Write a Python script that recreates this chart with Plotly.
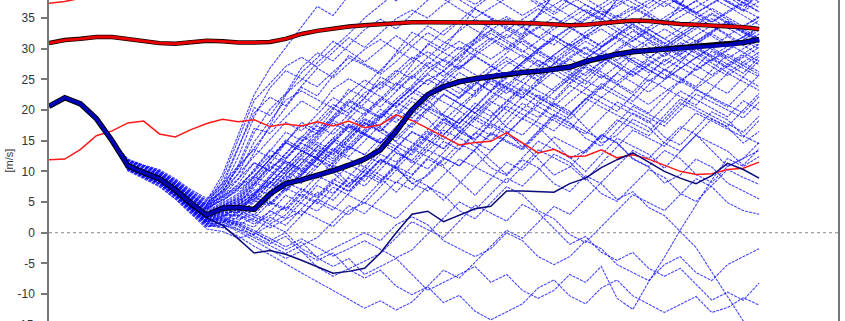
import sys
import plotly.graph_objects as go

# ---------------- data ----------------
steps = list(range(46))

start_common = [20.6, 22.0, 21.0, 18.6, 15.0]

mean_line = [20.6, 22.0, 21.0, 18.6, 15.0, 10.9, 9.8, 8.8, 7.0, 4.8,
             2.9, 4.0, 4.1, 3.8, 6.3, 8.0, 8.6, 9.3, 10.1, 11.0,
             12.0, 13.5, 16.5, 20.0, 22.5, 23.8, 24.6, 25.1, 25.5, 25.9,
             26.1, 26.3, 26.6, 27.0, 27.9, 28.6, 29.1, 29.5, 29.7, 29.9,
             30.0, 30.2, 30.4, 30.6, 31.0, 31.5]

control_line = [20.6, 21.9, 20.8, 18.3, 14.6, 10.6, 9.6, 8.5, 6.5, 4.2,
                2.4, 1.2, -1.0, -3.3, -2.9, -3.5, -4.5, -5.6, -6.6, -6.3,
                -5.8, -3.3, 0.0, 3.0, 3.5, 1.8, 2.9, 3.9, 4.3, 6.8,
                6.8, 6.7, 6.6, 8.0, 8.9, 10.6, 11.9, 13.0, 11.5, 10.0,
                8.9, 8.0, 9.3, 11.3, 10.3, 8.9]

red_thick = [30.9, 31.4, 31.6, 31.9, 31.9, 31.6, 31.2, 30.9, 30.8, 31.1,
             31.3, 31.2, 31.0, 31.0, 31.1, 31.6, 32.4, 32.9, 33.3, 33.6,
             33.8, 34.0, 34.2, 34.3, 34.3, 34.3, 34.3, 34.3, 34.3, 34.3,
             34.2, 34.1, 33.9, 33.8, 33.9, 34.1, 34.3, 34.6, 34.5, 34.2,
             34.0, 33.9, 33.8, 33.6, 33.5, 33.2]

red_low = [11.9, 12.0, 13.6, 15.8, 16.6, 17.9, 18.2, 16.1, 15.6, 16.8,
           17.8, 18.5, 18.1, 18.4, 17.3, 17.7, 17.4, 18.1, 17.4, 18.2,
           17.1, 17.6, 19.2, 18.3, 17.0, 15.7, 14.3, 14.7, 14.9, 16.3,
           14.6, 13.0, 13.6, 12.4, 12.5, 13.5, 12.2, 12.7, 12.0, 11.0,
           10.0, 9.5, 9.6, 10.3, 10.5, 11.5]

red_high = [37.4, 37.7, 38.2, 38.9, 39.5, 40.1, 40.4, 40.0, 40.3, 40.9,
            41.2, 41.0, 41.5, 41.9, 42.2, 42.0, 42.6, 43.0, 43.2, 43.5,
            43.1, 43.6, 44.0, 44.2, 44.5, 44.3, 44.8, 45.0, 45.2, 45.0,
            45.4, 45.6, 45.3, 45.7, 45.9, 46.0, 45.8, 46.2, 46.0, 46.3,
            46.1, 46.4, 46.2, 46.5, 46.3, 46.6]

members_early = [
    [11.4,10.4,9.6,8.0,6.1,4.6,8.9,15.2, 21.6,24.3,27.1,28.6,27.0,29.4,31.8,30.2, 32.5,34.9,36.3,35.0,37.2,38.8,40.1,38.6, 37.0,35.4,36.9,38.5,39.7,38.2,36.6,35.1, 36.4,37.9,38.7,37.1,35.6,34.3,35.8,37.4,38.6],
    [11.2,10.2,9.3,7.7,5.7,4.0,7.1,12.4, 18.9,23.6,26.4,25.1,23.8,26.2,28.5,27.3, 25.8,27.9,30.4,32.6,31.1,29.8,31.6,33.9, 35.2,33.7,31.9,30.6,32.8,34.7,36.2,34.8, 33.1,31.5,30.2,32.0,33.9,35.6,34.1,32.7,31.2],
    [11.3,10.3,9.5,7.9,5.9,4.4,6.8,10.6, 16.3,20.1,22.7,26.9,29.3,28.0,30.6,33.1, 34.8,33.2,35.6,37.9,39.5,38.0,36.4,34.9, 33.1,31.6,29.9,31.8,33.5,35.7,37.2,38.9, 40.3,39.0,37.5,36.1,37.8,39.2,40.6,39.1,37.6],
    [11.1,10.0,9.2,7.6,5.6,3.8,6.2,9.7, 14.8,18.2,21.6,23.1,21.7,20.3,22.8,24.9, 23.4,25.7,27.9,29.5,28.1,26.6,28.9,30.7, 32.3,30.8,29.1,27.6,29.8,31.7,33.2,31.6, 30.0,28.4,30.3,32.1,33.6,32.0,30.5,31.9,33.3],
    [11.0,9.9,9.1,7.4,5.3,3.6,5.9,8.7, 13.1,17.5,22.4,26.1,28.5,31.2,29.6,27.8, 29.9,32.1,30.4,28.7,27.0,29.3,31.5,33.0, 31.4,29.7,28.0,26.6,28.4,30.1,28.6,27.0, 25.5,27.3,29.0,30.6,29.2,27.7,26.1,27.8,29.4],
    [11.3,10.2,9.4,7.8,5.8,4.2,7.6,13.8, 20.4,19.1,22.6,24.9,27.7,30.1,32.4,35.0, 37.1,39.2,41.0,39.6,38.1,36.5,35.0,36.7, 38.3,39.8,38.4,36.9,35.3,33.8,35.4,37.0, 38.5,40.0,38.7,37.2,35.8,37.3,38.8,37.4,36.0],
    [11.2,10.1,9.3,7.6,5.5,3.9,6.5,11.1, 17.0,16.2,18.9,21.5,20.0,23.4,25.1,23.7, 22.2,20.6,22.8,24.9,26.3,24.8,23.1,25.2, 27.4,29.0,27.5,25.9,24.3,26.1,27.9,29.6, 28.1,26.6,25.0,26.8,28.5,30.2,28.7,27.2,25.8],
    [11.4,10.3,9.5,7.9,6.0,4.5,8.2,14.0, 19.5,22.1,20.7,23.9,26.8,25.3,27.6,29.9, 31.5,29.8,28.2,30.5,32.9,34.6,33.1,31.5, 29.8,31.7,33.4,35.1,33.6,32.0,30.4,32.3, 34.1,35.8,34.2,32.7,31.2,32.9,34.5,33.0,34.6],
    [11.9,11.0,10.1,8.6,6.8,5.3,7.5,10.5, 13.8,17.1,20.4,23.7,22.3,25.6,28.9,27.5, 26.1,29.4,32.7,31.3,29.9,33.2,36.5,35.1, 33.7,32.3,35.6,38.9,37.5,36.1,34.7,38.0, 41.3,39.9,38.5,37.1,40.4,39.0,37.6,36.2,39.5],
    [10.5,9.3,8.1,6.2,3.9,1.8,2.5,4.4, 7.8,11.2,14.6,18.0,16.6,20.0,23.4,22.0, 25.4,24.0,27.4,30.8,29.4,28.0,31.4,34.8, 33.4,32.0,35.4,38.8,37.4,36.0,34.6,38.0, 36.6,35.2,33.8,37.2,40.6,39.2,37.8,36.4,35.0],
    [11.7,10.8,9.9,8.3,6.4,4.8,6.9,9.6, 12.4,15.2,18.0,16.6,19.3,22.0,20.6,19.2, 21.8,24.4,23.0,21.6,19.2,17.8,20.4,23.0, 21.6,20.2,18.8,21.4,24.0,22.6,21.2,19.8, 22.4,25.0,23.6,22.2,20.8,23.4,26.0,24.6,23.2],
    [11.8,10.9,10.0,8.4,6.6,5.2,9.5,16.0, 22.5,26.8,30.2,33.5,36.9,35.4,38.7,41.0, 39.5,37.8,40.6,42.1,40.4,38.7,37.2,39.0, 40.8,39.1,37.5,36.0,38.2,40.3,41.5,39.8, 38.1,36.6,38.4,40.1,41.6,40.0,38.4,36.9,38.5],
]

members_mid = [
    [11.0,9.8,8.8,7.0,4.9,3.0,4.3,5.2, 7.9,10.6,12.2,14.9,16.3,18.6,20.1,22.8, 24.2,26.5,25.1,27.3,29.6,31.2,29.8,28.3, 30.1,32.0,33.6,32.1,30.5,31.9,33.8,35.3, 36.9,35.4,33.8,35.2,36.8,38.3,36.9,35.4,33.9],
    [10.9,9.7,8.7,6.9,4.7,2.8,3.9,4.6, 6.2,8.9,11.7,10.3,12.8,15.4,17.7,16.2, 18.9,21.3,23.6,22.1,24.5,26.9,28.7,27.2, 25.6,27.8,29.9,31.5,30.0,28.4,30.2,32.0, 33.6,32.1,30.5,29.0,30.8,32.6,34.1,32.6,31.0],
    [10.8,9.6,8.6,6.8,4.5,2.5,3.4,3.9, 5.6,4.8,7.3,9.9,12.6,11.2,13.9,16.5, 19.1,21.8,24.0,26.7,28.3,26.8,29.2,31.4, 33.0,34.7,36.5,35.0,33.4,34.9,36.6,38.2, 39.7,38.3,36.8,38.4,39.9,41.0,39.6,38.1,36.7],
    [11.1,9.9,9.0,7.2,5.1,3.3,4.8,6.4, 9.2,12.0,14.7,13.3,15.9,18.3,17.0,19.5, 21.9,20.4,22.7,25.0,23.5,21.9,24.1,26.3, 28.0,26.5,24.9,26.8,28.7,30.3,28.8,27.2, 25.7,27.5,29.3,31.0,29.5,28.0,29.7,31.3,30.0],
    [10.9,9.8,8.8,6.9,4.8,2.9,4.1,4.9, 7.0,6.3,8.8,11.4,14.0,16.7,19.3,21.9, 20.5,23.0,25.4,27.8,26.3,28.6,30.8,32.5, 31.0,29.4,31.3,33.2,34.9,36.4,34.9,33.3, 31.8,33.5,35.1,36.7,35.2,33.7,32.1,33.7,35.2],
    [10.7,9.5,8.4,6.5,4.2,2.2,2.9,2.8, 4.1,6.8,9.5,12.1,10.7,13.3,15.9,18.4, 17.0,15.5,17.9,20.3,22.6,21.1,19.5,21.8, 24.0,26.2,24.7,23.1,25.3,27.4,29.3,27.8, 26.2,24.7,26.5,28.3,30.0,28.5,27.0,28.6,30.2],
    [11.0,9.9,8.9,7.1,5.0,3.1,4.5,5.8, 8.6,11.5,10.1,12.8,15.6,18.4,21.1,23.9, 26.5,29.0,31.4,33.7,32.2,34.5,36.7,38.6, 40.1,38.7,37.2,35.6,37.3,39.0,40.5,39.0, 37.5,35.9,37.6,39.2,40.6,39.1,37.6,36.1,37.7],
    [10.8,9.7,8.7,6.8,4.6,2.7,3.6,4.3, 5.9,8.4,7.0,9.6,12.3,15.0,17.6,16.1, 14.6,16.9,19.3,21.6,23.9,26.1,24.6,23.0, 25.2,27.4,29.5,28.0,26.4,28.3,30.2,31.9, 30.4,28.8,27.3,29.1,30.8,32.4,30.9,29.4,27.9],
    [11.1,10.0,9.1,7.3,5.2,3.4,5.1,7.2, 10.3,13.5,12.1,14.8,17.4,16.0,18.6,21.2, 23.7,26.2,28.6,27.1,25.5,27.7,29.9,31.8, 30.3,28.7,27.1,29.0,30.9,32.7,34.3,32.8, 31.2,32.9,34.6,36.2,37.8,36.3,34.7,33.2,31.7],
    [10.9,9.7,8.7,6.9,4.7,2.8,4.0,4.4, 6.5,9.3,12.0,14.6,13.2,11.7,14.3,16.9, 19.4,18.0,20.4,22.8,25.1,27.3,25.8,24.2, 22.7,24.9,27.0,29.0,30.8,29.3,27.7,29.6, 31.4,33.1,31.6,30.1,28.5,30.3,32.0,30.5,29.0],
    [11.0,9.8,8.9,7.0,4.9,3.0,4.4,5.5, 8.1,7.3,9.9,12.6,15.2,17.9,16.4,19.0, 21.5,23.9,26.3,28.6,30.8,32.9,34.8,33.3, 31.7,33.6,35.4,37.1,38.7,37.2,35.6,37.3, 38.9,40.3,38.9,37.4,35.8,37.4,38.9,37.5,36.0],
    [10.8,9.6,8.5,6.7,4.4,2.4,3.2,3.3, 4.9,7.4,10.0,8.6,11.2,13.8,12.4,15.0, 17.6,20.1,18.7,21.1,23.5,22.0,24.3,26.5, 28.6,27.1,25.5,27.5,29.4,31.2,29.7,28.1, 29.9,31.6,33.2,31.7,30.2,28.7,30.4,32.0,33.5],
    [11.2,10.1,9.2,7.5,5.4,3.7,5.6,8.0, 11.4,10.1,12.8,15.5,18.2,20.9,19.5,22.1, 24.6,23.2,25.6,24.1,26.5,28.8,31.0,33.0, 34.9,33.4,31.8,33.7,35.5,37.2,35.7,34.1, 35.8,37.4,38.9,37.5,36.0,34.4,36.1,37.7,39.2],
    [10.9,9.8,8.8,7.0,4.8,2.9,4.2,5.0, 7.4,10.2,13.0,15.7,14.3,12.8,15.4,17.9, 16.5,19.0,21.4,19.9,18.3,20.6,22.9,25.1, 23.6,22.0,24.2,26.3,28.3,26.8,25.2,27.2, 29.2,31.0,29.5,28.0,26.4,28.2,29.9,31.5,33.0],
    [10.8,9.7,8.6,6.8,4.5,2.6,3.5,4.0, 5.2,4.4,6.9,9.5,12.2,14.9,13.5,16.1, 18.6,21.1,23.5,25.8,24.3,22.7,25.0,27.2, 29.3,31.3,29.8,28.2,30.2,32.1,33.8,35.4, 33.9,32.3,30.8,32.5,34.2,35.8,34.3,32.8,31.3],
    [11.0,9.9,8.9,7.1,5.0,3.2,4.7,6.1, 9.0,12.1,15.1,13.7,16.4,19.1,21.7,20.3, 18.8,21.3,23.7,26.0,28.2,30.3,28.8,27.2, 25.7,27.7,29.7,31.6,33.4,31.9,30.3,32.2, 34.0,32.5,30.9,29.4,31.1,32.8,34.4,32.9,31.4],
    [12.0,11.0,10.3,8.8,7.0,5.6,8.0,10.9, 13.6,12.2,14.9,17.5,16.1,18.8,21.4,20.0, 18.6,21.2,19.8,22.4,25.0,23.6,22.2,24.8, 23.4,21.9,24.5,27.1,25.7,24.2,26.8,29.4, 28.0,26.5,25.1,27.7,30.3,28.9,27.4,26.0,28.6],
    [10.4,9.2,8.0,6.0,3.6,1.4,1.2,2.6, 5.3,8.0,10.7,13.4,12.0,14.7,17.4,16.0, 14.6,17.3,20.0,22.7,21.3,19.9,22.6,25.2, 23.8,22.4,25.0,27.6,26.2,24.8,23.4,26.0, 28.6,27.2,25.8,24.4,27.0,29.6,28.2,26.8,25.4],
    [11.8,10.9,10.0,8.5,6.6,5.0,6.6,8.8, 11.4,10.0,8.6,11.3,14.0,12.6,15.3,18.0, 16.6,19.3,22.0,20.6,19.2,17.8,20.5,23.2, 25.9,24.5,23.1,21.7,24.4,27.1,25.7,24.3, 22.9,25.6,28.3,26.9,25.5,24.1,22.7,25.4,28.1],
    [11.3,10.2,9.3,7.6,5.5,3.8,5.4,7.3, 10.1,13.3,16.4,15.0,17.7,20.3,18.9,17.4, 20.1,18.6,17.2,19.9,22.5,21.0,19.6,18.1, 20.8,23.4,22.0,20.5,19.1,21.7,24.3,22.9, 21.4,24.1,26.7,25.3,23.8,26.5,29.1,27.7,26.2],
    [10.6,9.4,8.3,6.4,4.0,1.9,2.7,3.9, 6.1,9.0,8.2,10.9,13.6,12.1,15.0,17.8, 16.4,14.9,17.6,20.3,19.0,16.4,15.1,17.8, 16.5,13.9,16.6,19.3,18.0,15.4,14.1,16.8, 19.5,18.2,15.6,14.3,17.0,19.7,18.4,15.8,14.5],
]

members_late = [
    [10.7,9.5,8.4,6.5,4.1,2.0,2.6,2.2, 3.0,1.8,4.5,7.2,6.0,8.7,7.4,10.1, 12.8,11.5,14.2,16.9,19.5,22.1,24.6,23.1, 25.5,27.8,30.0,32.1,30.6,29.0,31.0,32.9, 34.7,33.2,31.6,33.3,35.0,36.6,35.1,33.6,35.1],
    [10.6,9.4,8.3,6.3,3.9,1.8,2.1,1.3, 2.4,4.9,3.6,6.3,5.0,3.7,6.4,9.1, 11.8,10.4,13.1,15.8,18.4,17.0,19.6,22.1, 24.5,23.0,21.4,23.6,25.7,27.7,26.2,24.6, 26.6,28.5,30.3,28.8,27.3,25.7,27.5,29.2,30.8],
    [10.9,9.7,8.7,6.9,4.7,2.8,4.0,4.7, 6.3,5.1,3.9,6.6,9.3,8.0,6.7,9.4, 8.1,10.8,9.5,12.2,14.9,13.5,16.2,18.8, 21.3,23.7,22.2,20.6,22.9,25.1,27.2,29.2, 27.7,26.1,27.9,29.7,31.4,29.9,28.4,30.0,31.6],
    [10.7,9.6,8.5,6.6,4.3,2.3,3.0,2.9, 1.8,3.4,6.1,4.8,3.5,6.2,8.9,7.6, 10.3,13.0,11.7,10.4,13.1,15.8,18.4,21.0, 23.5,25.9,28.2,26.7,25.1,27.2,29.2,31.1, 32.9,31.4,29.8,31.6,33.3,34.9,33.4,31.9,30.4],
    [10.8,9.6,8.6,6.7,4.4,2.4,3.3,3.6, 2.6,1.4,2.9,5.6,8.3,11.0,9.7,8.4, 11.1,13.8,16.4,15.1,13.7,16.3,18.9,21.4, 20.0,18.5,20.8,23.0,25.1,23.6,22.0,24.1, 26.2,28.1,26.6,25.0,23.5,25.4,27.2,28.9,27.4],
    [10.6,9.4,8.2,6.2,3.7,1.5,1.7,0.6, -0.3,1.3,0.1,2.8,5.5,4.2,2.9,5.6, 8.3,11.0,13.7,12.4,11.0,13.7,16.3,15.0, 17.6,20.1,22.5,21.0,19.4,21.7,23.9,26.0, 24.5,22.9,24.9,26.8,28.6,27.1,25.6,27.3,28.9],
    [10.8,9.7,8.6,6.8,4.6,2.6,3.7,4.1, 2.9,5.6,8.3,7.0,5.7,8.4,11.1,9.8, 8.5,11.2,13.9,16.5,15.2,17.8,20.4,19.0, 21.5,24.0,26.4,28.7,27.2,25.6,27.8,29.9, 31.8,30.3,28.7,30.5,32.2,33.8,32.3,30.8,32.4],
    [10.7,9.5,8.4,6.4,4.0,1.9,2.3,1.8, 0.9,3.6,2.3,5.0,7.7,6.4,9.1,11.8, 14.5,13.1,11.8,14.5,17.2,19.8,18.4,17.0, 19.6,22.1,20.6,19.0,21.3,23.5,25.6,24.1, 22.5,20.9,22.9,24.8,26.6,28.3,26.8,25.3,23.8],
    [10.2,9.0,7.6,5.6,3.2,0.9,1.8,3.5, 6.2,8.9,11.6,10.2,8.8,11.5,14.1,12.7, 11.3,13.9,16.5,15.1,13.7,16.3,18.9,17.5, 16.1,18.7,21.3,19.9,18.5,21.1,23.7,22.3, 20.9,19.5,22.1,24.7,23.3,21.9,20.5,23.1,25.7],
    [10.3,9.0,7.8,5.9,3.5,1.2,0.8,1.9, 3.9,6.6,9.3,8.0,10.7,13.4,12.0,10.7, 13.4,16.0,14.7,13.3,16.0,18.6,17.2,15.9, 18.5,21.1,19.7,18.3,16.9,19.5,22.1,20.7, 19.3,17.9,20.5,23.1,21.7,20.3,18.9,21.5,20.0],
    [11.6,10.6,9.7,8.1,6.2,4.3,6.0,7.7, 9.9,12.6,11.3,10.0,12.7,15.4,14.0,12.7, 15.4,14.0,12.7,15.4,18.0,16.7,15.3,18.0, 20.6,19.3,17.9,16.6,19.2,21.9,20.5,19.2, 17.8,16.5,19.1,21.8,20.4,19.1,17.7,16.4,19.0],
    [10.1,8.8,7.5,5.5,3.0,0.6,0.2,-0.9, -0.2,2.5,1.2,3.9,6.6,5.3,8.0,10.7, 9.4,8.1,10.8,13.5,12.2,10.9,13.6,16.3, 15.0,13.7,16.4,19.1,17.8,16.5,15.2,17.9, 20.6,19.3,18.0,20.7,23.4,22.1,20.8,19.5,22.2],
    [10.3,9.1,7.9,5.8,3.3,1.0,1.3,0.5, -0.8,-2.1,-3.4,-2.1,-0.8,1.8,4.4,3.1, 5.7,8.3,7.0,9.6,12.2,10.9,13.5,16.1, 14.8,13.5,16.1,18.7,17.4,16.1,18.7,21.3, 20.0,18.7,17.4,20.0,22.6,21.3,20.0,18.7,21.3],
]

members_low = [
    [10.6,9.4,8.2,6.2,3.8,1.6,1.4,0.2, -1.3,-2.7,-4.2,-3.0,-5.6,-7.1,-5.9,-4.6, -3.4,-0.8,1.8,0.5,-0.8,1.9,4.5,3.2, 1.9,4.6,3.3,0.7,-1.9,-0.6,-3.2,-4.5, -3.2,-5.8,-7.1,-5.8,-8.4,-11.0,-9.7,-11.0,-8.2],
    [10.7,9.5,8.3,6.4,3.9,1.7,1.9,1.0, -0.5,-1.8,-0.6,-3.1,-4.5,-3.3,-6.0,-7.4, -6.1,-8.7,-10.1,-8.8,-11.4,-10.2,-12.8,-14.2, -12.9,-11.6,-9.0,-7.7,-10.3,-11.6,-9.0,-7.7, -10.3,-11.7,-13.0,-11.7,-10.4,-13.0,-12.2,-10.6,-11.8],
    [10.8,9.6,8.5,6.6,4.2,2.1,2.4,1.6, 0.4,-0.9,-2.3,-1.0,-2.4,-3.8,-2.6,-1.3, -2.7,-4.1,-2.8,-0.2,2.4,5.0,3.7,6.3, 8.9,7.6,10.2,12.8,11.5,9.0,6.4,5.1, 7.7,10.3,9.0,6.4,5.1,7.7,10.3,9.0,7.9],
    [10.6,9.3,8.1,6.1,3.6,1.3,0.9,-0.6, -2.2,-3.6,-5.1,-6.5,-8.0,-9.4,-10.9,-12.3, -11.1,-12.6,-11.3,-8.7,-6.1,-7.4,-4.8,-2.2, 0.4,-0.9,1.7,4.3,3.0,5.6,8.2,10.8, 13.4,12.1,14.7,17.3,16.0,13.4,10.8,12.1,14.7],
    [10.8,9.6,8.6,6.7,4.4,2.4,3.2,3.4, 2.1,0.8,2.2,3.6,2.3,1.0,3.6,4.9, 3.6,2.3,4.9,7.5,6.2,3.6,2.3,4.9, 7.5,6.2,3.6,2.3,-0.3,-1.6,1.0,3.6, 6.2,4.9,3.6,6.2,8.8,7.5,4.9,3.6,3.0],
    [10.7,9.5,8.3,6.4,4.0,1.8,2.0,1.2, 0.0,-1.4,-2.8,-1.5,-4.1,-5.5,-4.2,-6.8, -5.5,-4.2,-6.8,-9.4,-8.1,-6.8,-5.5,-8.1, -6.8,-9.4,-10.7,-9.4,-6.8,-8.1,-5.5,-10.7, -12.5,-8.0,-4.0,0.4,4.5,8.6,12.1,10.8,12.4],
    [10.9,9.7,8.7,6.9,4.7,2.8,4.0,5.2, 6.5,8.0,6.7,9.3,11.9,10.6,8.0,9.3, 11.9,10.6,8.0,9.3,11.9,14.5,13.2,10.6, 9.3,11.9,10.6,8.0,6.7,9.3,8.0,5.4, 6.7,4.1,2.8,0.2,-2.4,-6.4,-10.4,-14.4,-16.0],
    [10.7,9.5,8.4,6.5,4.1,1.9,2.2,1.4, 0.1,-1.3,0.0,-2.6,-3.9,-2.6,-1.3,0.0, -1.3,1.3,2.6,1.3,-1.3,-2.6,-3.9,-2.6, 0.0,-1.3,-3.9,-5.2,-3.9,-1.3,-2.6,-5.2, -6.5,-7.8,-5.2,-3.9,-6.5,-7.8,-5.2,-3.9,-2.6],
    [10.8,9.6,8.5,6.6,4.3,2.2,2.8,2.7, 1.4,2.8,4.2,2.9,5.5,8.1,6.8,9.4, 12.0,10.7,8.1,6.8,9.4,12.0,10.7,13.3, 15.9,14.6,12.0,9.4,10.7,13.3,15.9,14.6, 12.0,10.7,8.1,9.4,12.0,10.7,8.1,6.8,5.5],
    [11.0,9.9,8.9,7.0,4.9,3.0,4.4,5.6, 8.2,10.8,9.5,12.1,14.7,13.4,16.0,18.6, 17.3,14.7,13.4,16.0,18.6,17.3,14.7,13.4, 16.0,18.6,17.3,14.7,12.1,13.4,16.0,14.7, 12.1,10.8,13.4,12.1,9.5,8.2,10.8,12.1,13.4],
    [10.9,9.7,8.7,6.9,4.6,2.7,3.8,4.2, 5.5,8.1,10.7,9.4,12.0,14.6,17.2,15.9, 14.6,17.2,19.8,18.5,15.9,18.5,21.1,19.8, 17.2,15.9,18.5,21.1,19.8,17.2,14.6,15.9, 18.5,17.2,14.6,13.3,15.9,18.5,17.2,14.6,16.5],
    [11.5,10.6,9.6,7.9,5.9,4.1,5.3,6.9, 9.1,8.0,10.7,13.4,12.1,10.8,13.5,16.2, 14.9,13.6,11.3,14.0,16.7,15.4,14.1,11.8, 9.5,12.2,14.9,13.6,12.3,10.0,12.7,15.4, 14.1,12.8,10.5,13.2,15.9,14.6,13.3,11.0,13.7],
    [11.6,10.7,9.8,8.2,6.3,4.6,5.8,7.4, 9.3,12.0,14.7,13.4,12.1,9.8,7.5,10.2, 8.9,6.6,9.3,12.0,10.7,8.4,6.1,8.8, 11.5,10.2,12.9,15.6,14.3,13.0,15.7,18.4, 17.1,15.8,18.5,21.2,19.9,18.6,17.3,20.0,22.7],
    [10.4,9.2,8.0,6.0,3.7,1.5,1.6,3.3, 5.9,4.6,7.3,6.0,4.7,7.4,6.1,4.8, 7.5,10.2,8.9,7.6,5.3,8.0,10.7,9.4, 8.1,10.8,13.5,12.2,10.9,8.6,11.3,14.0, 16.7,15.4,14.1,16.8,19.5,18.2,16.9,15.6,18.3],
]

y_ticks = [-15, -10, -5, 0, 5, 10, 15, 20, 25, 30, 35]
y_label = "[m/s]"

# ---------------- figure ----------------
fig = go.Figure()

all_members = members_early + members_mid + members_late + members_low
for k, m in enumerate(all_members):
    vals = start_common + m
    if len(vals) != len(steps):
        print("member", k, "length", len(vals), file=sys.stderr)
    fig.add_trace(go.Scatter(
        x=steps[:len(vals)], y=vals, mode="lines",
        line=dict(color="rgba(10,10,255,0.75)", width=1.1, dash="3px,1px"),
        hoverinfo="skip", showlegend=False))

# zero line
fig.add_trace(go.Scatter(x=[0, 50], y=[0, 0], mode="lines",
                         line=dict(color="#8a8a8a", width=1, dash="dot"),
                         hoverinfo="skip", showlegend=False))

for series in (red_low, red_high):
    fig.add_trace(go.Scatter(x=steps, y=series, mode="lines",
                             line=dict(color="rgb(255,25,25)", width=1.5),
                             showlegend=False))

fig.add_trace(go.Scatter(x=steps, y=control_line, mode="lines",
                         line=dict(color="rgb(10,10,120)", width=1.5),
                         showlegend=False))

fig.add_trace(go.Scatter(x=steps, y=mean_line, mode="lines",
                         line=dict(color="rgb(0,0,0)", width=5.5),
                         showlegend=False))
fig.add_trace(go.Scatter(x=steps, y=mean_line, mode="lines",
                         line=dict(color="rgb(0,0,185)", width=3.5),
                         showlegend=False))

fig.add_trace(go.Scatter(x=steps, y=red_thick, mode="lines",
                         line=dict(color="rgb(20,0,0)", width=4.5),
                         showlegend=False))
fig.add_trace(go.Scatter(x=steps, y=red_thick, mode="lines",
                         line=dict(color="rgb(235,0,0)", width=2.8),
                         showlegend=False))

y_lo, y_hi = -14.39, 37.93
fig.update_layout(
    width=845, height=321,
    margin=dict(l=49, r=7, t=0, b=0),
    paper_bgcolor="white", plot_bgcolor="white",
    font=dict(family="Liberation Sans, Arial, sans-serif", size=12, color="#333333"),
    xaxis=dict(range=[0, 50], visible=False, showgrid=False, zeroline=False),
    yaxis=dict(range=[y_lo, y_hi], tickvals=y_ticks, ticktext=[str(v) for v in y_ticks],
               ticks="outside", ticklen=6, tickwidth=1.5, tickcolor="#777777",
               showline=True, linecolor="#777777", linewidth=1.5, mirror=True,
               showgrid=False, zeroline=False, automargin=False,
               tickfont=dict(size=12, color="#333333"), ticklabelstandoff=4),
    annotations=[
        dict(text=y_label, textangle=-90, xref="paper", yref="paper",
             x=(8 - 49) / 789, y=0.5, xanchor="center", yanchor="middle",
             showarrow=False, font=dict(size=11, color="#333333")),
        dict(text="-15", xref="paper", yref="paper",
             x=-0.0165, y=(-15 - y_lo) / (y_hi - y_lo), xanchor="right", yanchor="middle",
             showarrow=False, font=dict(size=12, color="#333333")),
    ],
)

fig.write_html("out.html")
